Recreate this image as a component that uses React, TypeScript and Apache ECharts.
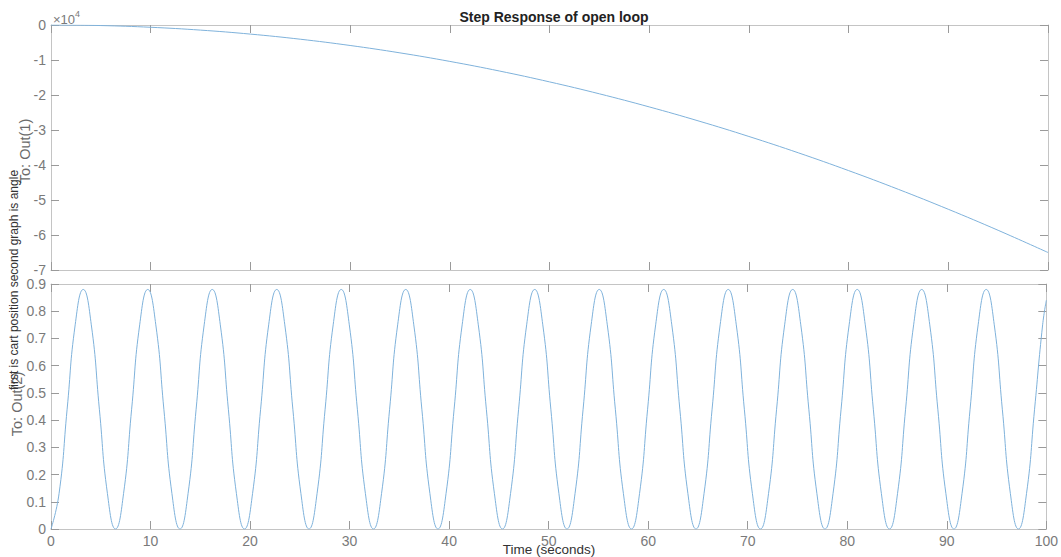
import React, { useEffect, useRef } from "react";
import * as echarts from "echarts";

// Cart position (To: Out(1)), read at 5 s steps
const posTime = [0, 5, 10, 15, 20, 25, 30, 35, 40, 45, 50, 55, 60, 65, 70, 75, 80, 85, 90, 95, 100];
const posValue = [0, -160, -650, -1460, -2600, -4060, -5850, -7960, -10400, -13160, -16250, -19660, -23400, -27460, -31850, -36560, -41600, -46960, -52650, -58660, -65000];

// Angle (To: Out(2)), read at ~1/8 period steps
const angTime = [
  0, 0.81, 1.62, 2.43, 3.24, 4.05, 4.86, 5.67,
  6.48, 7.29, 8.1, 8.91, 9.72, 10.53, 11.34, 12.15,
  12.96, 13.77, 14.58, 15.39, 16.2, 17.01, 17.82, 18.63,
  19.44, 20.25, 21.06, 21.87, 22.68, 23.49, 24.3, 25.11,
  25.92, 26.73, 27.54, 28.35, 29.16, 29.97, 30.78, 31.59,
  32.4, 33.21, 34.02, 34.83, 35.64, 36.45, 37.26, 38.07,
  38.88, 39.69, 40.5, 41.31, 42.12, 42.93, 43.74, 44.55,
  45.36, 46.17, 46.98, 47.79, 48.6, 49.41, 50.22, 51.03,
  51.84, 52.65, 53.46, 54.27, 55.08, 55.89, 56.7, 57.51,
  58.32, 59.13, 59.94, 60.75, 61.56, 62.37, 63.18, 63.99,
  64.8, 65.61, 66.42, 67.23, 68.04, 68.85, 69.66, 70.47,
  71.28, 72.09, 72.9, 73.71, 74.52, 75.33, 76.14, 76.95,
  77.76, 78.57, 79.38, 80.19, 81.0, 81.81, 82.62, 83.43,
  84.24, 85.05, 85.86, 86.67, 87.48, 88.29, 89.1, 89.91,
  90.72, 91.53, 92.34, 93.15, 93.96, 94.77, 95.58, 96.39,
  97.2, 98.01, 98.82, 99.63, 100,
];
const angValue = [
  0, 0.13, 0.44, 0.75, 0.88, 0.75, 0.44, 0.13,
  0, 0.13, 0.44, 0.75, 0.88, 0.75, 0.44, 0.13,
  0, 0.13, 0.44, 0.75, 0.88, 0.75, 0.44, 0.13,
  0, 0.13, 0.44, 0.75, 0.88, 0.75, 0.44, 0.13,
  0, 0.13, 0.44, 0.75, 0.88, 0.75, 0.44, 0.13,
  0, 0.13, 0.44, 0.75, 0.88, 0.75, 0.44, 0.13,
  0, 0.13, 0.44, 0.75, 0.88, 0.75, 0.44, 0.13,
  0, 0.13, 0.44, 0.75, 0.88, 0.75, 0.44, 0.13,
  0, 0.13, 0.44, 0.75, 0.88, 0.75, 0.44, 0.13,
  0, 0.13, 0.44, 0.75, 0.88, 0.75, 0.44, 0.13,
  0, 0.13, 0.44, 0.75, 0.88, 0.75, 0.44, 0.13,
  0, 0.13, 0.44, 0.75, 0.88, 0.75, 0.44, 0.13,
  0, 0.13, 0.44, 0.75, 0.88, 0.75, 0.44, 0.13,
  0, 0.13, 0.44, 0.75, 0.88, 0.75, 0.44, 0.13,
  0, 0.13, 0.44, 0.75, 0.88, 0.75, 0.44, 0.13,
  0, 0.13, 0.44, 0.75, 0.84,
];

const xTicks = [0, 10, 20, 30, 40, 50, 60, 70, 80, 90, 100];

const FONT = "Liberation Sans, Arial, Helvetica, sans-serif";
const AXIS_COLOR = "#c4c4c4";
const TICK_COLOR = "#9a9a9a";
const LABEL_COLOR = "#7a7a7a";
const LINE_COLOR = "#7fb2db";

export default function App() {
  const ref = useRef<HTMLDivElement>(null);
  useEffect(() => {
    if (!ref.current) return;
    const chart = echarts.init(ref.current, null, { renderer: "svg" });

    const baseX = (gridIndex: number, position: string, labels: boolean) => ({
      type: "value",
      gridIndex,
      position,
      min: xTicks[0],
      max: xTicks[xTicks.length - 1],
      interval: 10,
      axisLine: { show: true, onZero: false, lineStyle: { color: AXIS_COLOR, width: 1 } },
      axisTick: { show: true, inside: true, length: 8, lineStyle: { color: TICK_COLOR } },
      axisLabel: {
        show: labels,
        color: LABEL_COLOR,
        fontFamily: FONT,
        fontSize: 14,
        margin: 5,
      },
      splitLine: { show: false },
    });

    const baseY = (
      gridIndex: number,
      position: string,
      labels: boolean,
      min: number,
      max: number,
      interval: number,
      fmt: (v: number) => string
    ) => ({
      type: "value",
      gridIndex,
      position,
      min,
      max,
      interval,
      axisLine: { show: true, onZero: false, lineStyle: { color: AXIS_COLOR, width: 1 } },
      axisTick: { show: true, inside: true, length: 8, lineStyle: { color: TICK_COLOR } },
      axisLabel: {
        show: labels,
        color: LABEL_COLOR,
        fontFamily: FONT,
        fontSize: 14,
        margin: 5,
        formatter: fmt,
      },
      splitLine: { show: false },
    });

    const posFmt = (v: number) => String(Math.round(v / 10000));
    const angFmt = (v: number) => (v === 0 ? "0" : v.toFixed(1));

    chart.setOption({
      animation: false,
      backgroundColor: "#ffffff",
      title: {
        text: "Step Response of open loop",
        left: 549,
        top: 5,
        textAlign: "center",
        textStyle: { fontFamily: FONT, fontSize: 14, fontWeight: "bold", color: "#222" },
      },
      grid: [
        { left: 51, right: 13, top: 25, height: 245 },
        { left: 51, right: 13, top: 284, height: 245 },
      ],
      xAxis: [
        baseX(0, "bottom", false),
        baseX(0, "top", false),
        baseX(1, "bottom", true),
        baseX(1, "top", false),
      ],
      yAxis: [
        baseY(0, "left", true, -70000, 0, 10000, posFmt),
        baseY(0, "right", false, -70000, 0, 10000, posFmt),
        baseY(1, "left", true, 0, 0.9, 0.1, angFmt),
        baseY(1, "right", false, 0, 0.9, 0.1, angFmt),
      ],
      series: [
        {
          type: "line",
          xAxisIndex: 0,
          yAxisIndex: 0,
          data: posTime.map((t, i) => [t, posValue[i]]),
          smooth: 0.4,
          showSymbol: false,
          lineStyle: { color: LINE_COLOR, width: 1 },
        },
        {
          type: "line",
          xAxisIndex: 2,
          yAxisIndex: 2,
          data: angTime.map((t, i) => [t, angValue[i]]),
          smooth: 0.5,
          showSymbol: false,
          lineStyle: { color: LINE_COLOR, width: 1 },
        },
      ],
      graphic: [
        {
          type: "text",
          left: 53,
          top: 9,
          style: {
            text: "{a|×10}{b|4}",
            rich: {
              a: { fontFamily: FONT, fontSize: 13, fill: LABEL_COLOR, padding: [4, 0, 0, 0] },
              b: { fontFamily: FONT, fontSize: 9, fill: LABEL_COLOR, verticalAlign: "top" },
            },
          },
        },
        {
          type: "text",
          x: 25,
          y: 151,
          rotation: Math.PI / 2,
          style: {
            text: "To: Out(1)",
            fontFamily: FONT,
            fontSize: 14.5,
            fill: "#6a6a6a",
            align: "center",
            verticalAlign: "middle",
          },
        },
        {
          type: "text",
          x: 17,
          y: 404,
          rotation: Math.PI / 2,
          style: {
            text: "To: Out(2)",
            fontFamily: FONT,
            fontSize: 14.5,
            fill: "#6a6a6a",
            align: "center",
            verticalAlign: "middle",
          },
        },
        {
          type: "text",
          x: 14,
          y: 280,
          rotation: Math.PI / 2,
          style: {
            text: "first is cart position second graph is angle",
            fontFamily: FONT,
            fontSize: 12,
            fill: "#333",
            align: "center",
            verticalAlign: "middle",
          },
        },
        {
          type: "text",
          x: 549,
          y: 549,
          style: {
            text: "Time (seconds)",
            fontFamily: FONT,
            fontSize: 13.5,
            fill: "#333",
            align: "center",
            verticalAlign: "middle",
          },
        },
      ],
    });
    return () => chart.dispose();
  }, []);

  return (
    <div
      ref={ref}
      style={{ position: "absolute", left: 0, top: 0, width: 1061, height: 557 }}
    />
  );
}
